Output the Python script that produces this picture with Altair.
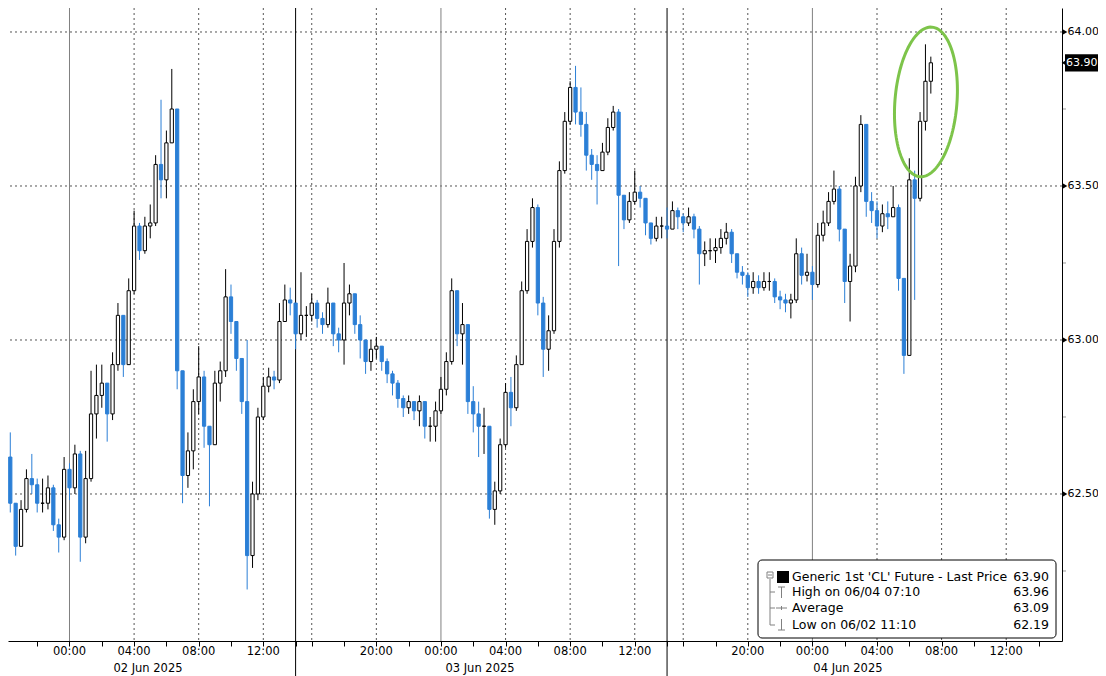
import altair as alt
import pandas as pd
import numpy as np

# ---------------- data ----------------
# 20-minute bars. Time axis = trading hours from 02 Jun 2025 00:00 with the
# one-hour session breaks removed (as on the Bloomberg axis).
FIRST_BAR_T = -11 / 3      # 01 Jun 20:20
BAR_HOURS = 1 / 3
first_open = 62.62

close = [62.47, 62.33, 62.45, 62.55, 62.53, 62.47, 62.47, 62.52, 62.40, 62.36,
         62.58, 62.52, 62.63, 62.36, 62.55, 62.76, 62.82, 62.86, 62.76, 62.92,
         63.08, 62.92, 63.16, 63.37, 63.29, 63.37, 63.38, 63.57, 63.52, 63.64,
         63.75, 62.90, 62.56, 62.64, 62.80, 62.88, 62.72, 62.66, 62.86, 62.90,
         63.14, 63.06, 62.94, 62.80, 62.30, 62.50, 62.75, 62.85, 62.88, 62.87,
         63.06, 63.13, 63.12, 63.02, 63.08, 63.08, 63.12, 63.07, 63.05, 63.12,
         63.02, 63.00, 63.12, 63.15, 63.05, 63.00, 62.93, 62.97, 62.98, 62.93,
         62.89, 62.86, 62.81, 62.78, 62.80, 62.77, 62.80, 62.72, 62.72, 62.77,
         62.84, 62.93, 63.16, 63.02, 63.05, 62.80, 62.76, 62.72, 62.72, 62.45,
         62.51, 62.66, 62.83, 62.78, 62.92, 63.16, 63.32, 63.43, 63.12, 62.97,
         63.03, 63.32, 63.55, 63.71, 63.82, 63.74, 63.70, 63.60, 63.57, 63.55,
         63.61, 63.69, 63.74, 63.47, 63.39, 63.45, 63.48, 63.46, 63.38, 63.33,
         63.37, 63.37, 63.36, 63.42, 63.40, 63.38, 63.40, 63.36, 63.28, 63.29,
         63.29, 63.30, 63.33, 63.35, 63.28, 63.22, 63.21, 63.17, 63.19, 63.17,
         63.19, 63.19, 63.14, 63.13, 63.12, 63.13, 63.28, 63.21, 63.22, 63.18,
         63.34, 63.38, 63.45, 63.49, 63.36, 63.19, 63.24, 63.50, 63.70, 63.45,
         63.42, 63.37, 63.41, 63.40, 63.43, 63.20, 62.95, 63.52, 63.46, 63.71,
         63.84, 63.90]

high = [62.70, 62.45, 62.48, 62.58, 62.63, 62.55, 62.55, 62.56, 62.53, 62.42,
        62.62, 62.60, 62.66, 62.64, 62.64, 62.90, 62.92, 62.92, 62.86, 62.96,
        63.12, 63.08, 63.20, 63.42, 63.38, 63.40, 63.44, 63.60, 63.78, 63.68,
        63.88, 63.72, 62.84, 62.70, 62.84, 62.98, 62.90, 62.72, 62.90, 62.93,
        63.23, 63.18, 63.06, 62.94, 63.00, 62.54, 62.78, 62.88, 62.91, 62.90,
        63.12, 63.18, 63.17, 63.08, 63.22, 63.11, 63.15, 63.13, 63.09, 63.17,
        63.12, 63.04, 63.25, 63.18, 63.15, 63.08, 63.00, 63.00, 63.01, 62.98,
        62.94, 62.90, 62.87, 62.82, 62.82, 62.80, 62.82, 62.80, 62.75, 62.80,
        62.88, 62.96, 63.20, 63.14, 63.12, 62.98, 62.85, 62.80, 62.78, 62.72,
        62.54, 62.68, 62.86, 62.88, 62.95, 63.19, 63.36, 63.46, 63.44, 63.14,
        63.08, 63.36, 63.58, 63.74, 63.84, 63.89, 63.82, 63.74, 63.62, 63.60,
        63.64, 63.72, 63.76, 63.75, 63.46, 63.48, 63.55, 63.50, 63.46, 63.38,
        63.40, 63.40, 63.43, 63.45, 63.43, 63.41, 63.43, 63.41, 63.37, 63.32,
        63.33, 63.33, 63.36, 63.38, 63.36, 63.28, 63.24, 63.22, 63.22, 63.21,
        63.22, 63.22, 63.20, 63.16, 63.15, 63.15, 63.33, 63.30, 63.28, 63.24,
        63.38, 63.42, 63.48, 63.55, 63.50, 63.36, 63.28, 63.53, 63.73, 63.68,
        63.48, 63.45, 63.44, 63.45, 63.50, 63.44, 63.20, 63.59, 63.55, 63.74,
        63.96, 63.92]

low = [62.44, 62.30, 62.34, 62.44, 62.50, 62.44, 62.44, 62.45, 62.38, 62.31,
       62.35, 62.48, 62.50, 62.28, 62.34, 62.54, 62.68, 62.78, 62.67, 62.74,
       62.90, 62.88, 62.92, 63.15, 63.26, 63.28, 63.33, 63.37, 63.46, 63.46,
       63.64, 62.84, 62.47, 62.52, 62.58, 62.76, 62.65, 62.46, 62.66, 62.80,
       62.88, 63.02, 62.90, 62.76, 62.19, 62.26, 62.48, 62.74, 62.83, 62.84,
       62.86, 63.06, 63.08, 62.97, 63.00, 63.01, 63.06, 63.04, 63.02, 63.04,
       62.98, 62.96, 62.92, 63.08, 63.02, 62.94, 62.89, 62.90, 62.94, 62.90,
       62.86, 62.82, 62.78, 62.75, 62.76, 62.74, 62.72, 62.68, 62.67, 62.67,
       62.76, 62.82, 62.92, 62.98, 62.92, 62.76, 62.70, 62.62, 62.63, 62.42,
       62.40, 62.50, 62.65, 62.72, 62.77, 62.92, 63.15, 63.30, 63.08, 62.88,
       62.90, 63.02, 63.30, 63.54, 63.70, 63.70, 63.66, 63.55, 63.52, 63.44,
       63.55, 63.60, 63.68, 63.24, 63.36, 63.38, 63.44, 63.43, 63.34, 63.31,
       63.32, 63.33, 63.33, 63.36, 63.36, 63.35, 63.37, 63.33, 63.18, 63.24,
       63.26, 63.25, 63.28, 63.31, 63.25, 63.20, 63.18, 63.14, 63.15, 63.15,
       63.16, 63.16, 63.12, 63.10, 63.09, 63.07, 63.12, 63.18, 63.19, 63.13,
       63.17, 63.32, 63.37, 63.44, 63.32, 63.12, 63.06, 63.22, 63.48, 63.40,
       63.38, 63.33, 63.35, 63.36, 63.40, 63.16, 62.89, 62.95, 63.13, 63.45,
       63.68, 63.80]

price_ticks = [62.5, 63.0, 63.5, 64.0]
minor_price_ticks = [62.25, 62.75, 63.25, 63.75]
axis_tick_t = [-2, 0, 2, 4, 6, 8, 10, 12, 14, 15, 17, 19, 21, 23, 25, 27, 29, 31,
               33, 35, 37, 38, 40, 42, 44, 46, 48, 50, 52, 54, 56, 58, 60]
time_label_t = [0, 4, 8, 12, 19, 23, 27, 31, 35, 42, 46, 50, 54, 58]
time_labels = ["00:00", "04:00", "08:00", "12:00", "20:00", "00:00", "04:00",
               "08:00", "12:00", "20:00", "00:00", "04:00", "08:00", "12:00"]
day_label_t = [4.86, 25.42, 48.2]
day_labels = ["02 Jun 2025", "03 Jun 2025", "04 Jun 2025"]
dotted_grid_t = [4, 8, 12, 15, 19, 27, 31, 35, 38, 42, 50, 54, 58]
midnight_t = [0, 23, 46]
session_break_t = [14, 37]
last_price = 63.90
legend_names = ["Generic 1st 'CL' Future - Last Price", "High on 06/04 07:10",
                "Average", "Low on 06/02 11:10"]
legend_values = ["63.90", "63.96", "63.09", "62.19"]

# ellipse annotation around the latest spike (data units)
ELL_T, ELL_P = 53.03, 63.773
ELL_RX_PX, ELL_RY_PX, ELL_TILT = 31, 75, 0.08

# ---------------- layout ----------------
W, H = 1054, 633
PAD_R, PAD_B = 36, 35
T0, T1 = -3.808, 61.455
P0, P1 = 62.0227, 64.0779
FONT = "DejaVu Sans"
BLUE = "#2b7fd6"

def tx(px):
    return T0 + px / W * (T1 - T0)

def py(px):
    return P1 - px / H * (P1 - P0)

xs = alt.Scale(domain=[T0, T1], nice=False, zero=False)
ys = alt.Scale(domain=[P0, P1], nice=False, zero=False)
xaxis = alt.Axis(values=axis_tick_t, labels=False, tickSize=5, tickColor="black",
                 domainColor="black", grid=False, title=None, orient="bottom")
yaxis = alt.Axis(values=price_ticks, orient="right", tickSize=0, labelPadding=5,
                 format=".2f", grid=False, title=None, domainColor="black",
                 labelFont=FONT, labelFontSize=11, labelColor="black")

def X(f):
    return alt.X(f"{f}:Q", scale=xs, axis=xaxis)

def Y(f):
    return alt.Y(f"{f}:Q", scale=ys, axis=yaxis)

n = len(close)
opens = [first_open] + close[:-1]
bars = pd.DataFrame({"t": FIRST_BAR_T + np.arange(n) * BAR_HOURS,
                     "open": opens, "close": close, "high": high, "low": low})
bars["hi"] = bars[["high", "open", "close"]].max(axis=1)
bars["lo"] = bars[["low", "open", "close"]].min(axis=1)
bars["t0"] = bars["t"] - 0.1
bars["t1"] = bars["t"] + 0.1
up = "datum.close >= datum.open"

# grid
hgrid = alt.Chart(pd.DataFrame({"p": price_ticks})).mark_rule(
    color="#555", strokeDash=[2, 3], strokeWidth=1).encode(y=Y("p"))
vdot = alt.Chart(pd.DataFrame({"t": dotted_grid_t})).mark_rule(
    color="#555", strokeDash=[2, 3], strokeWidth=1).encode(x=X("t"))
vmid = alt.Chart(pd.DataFrame({"t": midnight_t})).mark_rule(
    color="#808080", strokeWidth=1).encode(x=X("t"))
vbreak = alt.Chart(pd.DataFrame({"t": session_break_t})).mark_rule(
    color="black", strokeWidth=1).encode(x=X("t"), y=alt.value(0), y2=alt.value(H + PAD_B))

wicks = alt.Chart(bars).mark_rule(strokeWidth=1).encode(
    x=X("t"), y=Y("lo"), y2="hi",
    color=alt.condition(up, alt.value("black"), alt.value(BLUE)))
bodies = alt.Chart(bars).mark_rect(strokeWidth=1).encode(
    x=X("t0"), x2="t1", y=Y("open"), y2="close",
    fill=alt.condition(up, alt.value("white"), alt.value(BLUE)),
    stroke=alt.condition(up, alt.value("black"), alt.value(BLUE)))

# ellipse
a = np.linspace(0, 2 * np.pi, 121)
u = ELL_RX_PX * np.cos(a)
v = ELL_RY_PX * np.sin(a)
ex = u * np.cos(ELL_TILT) - v * np.sin(ELL_TILT)
ey = u * np.sin(ELL_TILT) + v * np.cos(ELL_TILT)
ell = pd.DataFrame({"t": ELL_T + ex * (T1 - T0) / W,
                    "p": ELL_P - ey * (P1 - P0) / H,
                    "o": np.arange(len(a))})
ellipse = alt.Chart(ell).mark_line(color="#7dc44a", strokeWidth=3).encode(
    x=X("t"), y=Y("p"), order="o:Q")

# axis decorations
tri = alt.Chart(pd.DataFrame({"p": price_ticks})).mark_point(
    shape="triangle-right", filled=True, size=30, color="black", opacity=1).encode(
    x=alt.value(W + 3), y=Y("p"))
minor = alt.Chart(pd.DataFrame({"p": minor_price_ticks})).mark_rule(
    color="#999", strokeWidth=1).encode(x=alt.value(W + 1), x2=alt.value(W + 4), y=Y("p"))
tag_df = pd.DataFrame({"p": [last_price], "pt": [last_price + 0.028],
                       "pb": [last_price - 0.028], "lab": [f"{last_price:.2f}"]})
tag_box = alt.Chart(tag_df).mark_rect(color="black").encode(
    x=alt.value(W + 3), x2=alt.value(W + PAD_R), y=Y("pt"), y2="pb")
tag_tri = alt.Chart(tag_df).mark_point(
    shape="triangle-left", filled=True, size=60, color="black", opacity=1).encode(
    x=alt.value(W + 3), y=Y("p"))
tag_txt = alt.Chart(tag_df).mark_text(
    color="white", align="left", baseline="middle", font=FONT, fontSize=11).encode(
    x=alt.value(W + 4), y=Y("p"), text="lab:N")

tlabels = alt.Chart(pd.DataFrame({"t": time_label_t, "lab": time_labels})).mark_text(
    font=FONT, fontSize=11.5, color="black", baseline="middle").encode(
    x=X("t"), y=alt.value(H + 11), text="lab:N")
dlabels = alt.Chart(pd.DataFrame({"t": day_label_t, "lab": day_labels})).mark_text(
    font=FONT, fontSize=11.5, color="black", baseline="middle").encode(
    x=X("t"), y=alt.value(H + 28), text="lab:N")

# legend box (pixel layout converted to data units of the fixed scales)
leg_rows_y = [569, 584, 600, 617]
leg_box = alt.Chart(pd.DataFrame({"t": [tx(750)], "t2": [tx(1048)],
                                  "p": [py(552)], "p2": [py(630)]})).mark_rect(
    fill="white", stroke="black", strokeWidth=1, cornerRadius=4).encode(
    x=X("t"), x2="t2", y=Y("p"), y2="p2")
leg_txt = pd.DataFrame({"t": [tx(784)] * 4, "tv": [tx(1041)] * 4,
                        "p": [py(yy) for yy in leg_rows_y],
                        "name": legend_names, "val": legend_values})
leg_names = alt.Chart(leg_txt).mark_text(
    align="left", baseline="middle", font=FONT, fontSize=12.5, color="black").encode(
    x=X("t"), y=Y("p"), text="name:N")
leg_vals = alt.Chart(leg_txt).mark_text(
    align="right", baseline="middle", font=FONT, fontSize=12.5, color="black").encode(
    x=alt.X("tv:Q", scale=xs, axis=xaxis), y=Y("p"), text="val:N")
leg_sq = alt.Chart(pd.DataFrame({"t": [tx(769)], "t2": [tx(781)],
                                 "p": [py(563)], "p2": [py(575)]})).mark_rect(
    color="black").encode(x=X("t"), x2="t2", y=Y("p"), y2="p2")
# tree lines and small icons (x1, x2, y1, y2 in pixels)
segs = [
    (762, 762, 571, 617), (762, 767, 584, 584), (762, 767, 600, 600), (762, 767, 617, 617),
    (759, 765, 564, 564), (759, 765, 570, 570), (759, 759, 564, 570), (765, 765, 564, 570),
    (760, 764, 567, 567),
    (770, 777, 579, 579), (773.5, 773.5, 579, 590),
    (768, 779, 600, 600), (773.5, 773.5, 598, 602),
    (770, 777, 622, 622), (773.5, 773.5, 611, 622),
]
seg_df = pd.DataFrame({"t": [tx(s[0]) for s in segs], "t2": [tx(s[1]) for s in segs],
                       "p": [py(s[2]) for s in segs], "p2": [py(s[3]) for s in segs]})
leg_segs = alt.Chart(seg_df).mark_rule(color="#808080", strokeWidth=1).encode(
    x=X("t"), x2="t2", y=Y("p"), y2="p2")

chart = alt.layer(
    hgrid, vdot, vmid, vbreak, wicks, bodies, ellipse,
    tri, minor, tag_box, tag_tri, tag_txt, tlabels, dlabels,
    leg_box, leg_segs, leg_sq, leg_names, leg_vals,
).properties(
    width=W, height=H, background="white",
    padding={"left": 0, "top": 0, "right": PAD_R, "bottom": PAD_B},
    autosize=alt.AutoSizeParams(type="none"),
).configure_view(stroke=None)

chart.save("out.html", embed_options={"renderer": "svg", "actions": False})
